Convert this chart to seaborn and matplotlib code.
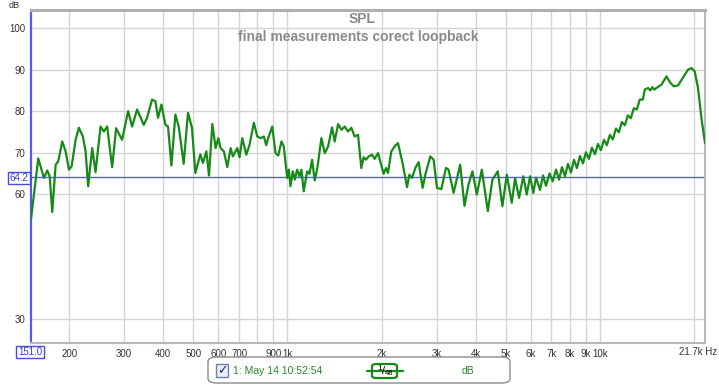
import matplotlib
matplotlib.use('Agg')
import matplotlib.pyplot as plt
import matplotlib.ticker as mticker
from matplotlib.patches import FancyBboxPatch, Rectangle
from matplotlib.lines import Line2D
import seaborn as sns

# SPL trace (Hz, dB)
freq_hz = [151, 159.3, 166.1, 170.2, 173.3, 176.6, 181.1, 184.6, 190.1, 194.9,
           199.7, 203.7, 209.8, 214.9, 221.3, 225.8, 230.1, 237.1, 243.0, 252.1,
           258.3, 264.7, 274.6, 282.8, 295.5, 308.9, 318.1, 330.0, 346.7, 355.2,
           368.5, 377.8, 385.1, 394.9, 406.7, 414.6, 425.0, 437.7, 448.6, 465.3,
           480.3, 494.6, 507.1, 526.1, 536.3, 550.0, 560.7, 574.8, 588.8, 600.6,
           610.8, 625.8, 641.6, 657.5, 668.6, 690.6, 702.4, 716.6, 738.1, 756.1,
           780.4, 800.2, 819.8, 840.1, 855.0, 867.6, 893.6, 915.7, 934.0, 956.8,
           973.2, 998, 1010, 1022, 1040, 1055, 1074, 1092, 1108, 1127,
           1156, 1176, 1199, 1222, 1244, 1284, 1316, 1349, 1389, 1416,
           1452, 1488, 1524, 1563, 1601, 1641, 1682, 1723, 1753, 1784,
           1819, 1865, 1901, 1949, 1982, 2031, 2067, 2098, 2149, 2213,
           2258, 2296, 2335, 2414, 2455, 2504, 2566, 2629, 2707, 2762,
           2865, 2936, 3010, 3107, 3216, 3278, 3401, 3571, 3686, 3796,
           3909, 4037, 4188, 4379, 4529, 4712, 4874, 5034, 5223, 5352,
           5511, 5688, 5832, 5976, 6123, 6246, 6431, 6576, 6723, 6899,
           7063, 7237, 7398, 7563, 7732, 7905, 8081, 8261, 8445, 8634,
           8826, 9023, 9224, 9430, 9640, 9855, 10075, 10300, 10529, 10764,
           11004, 11250, 11501, 11757, 12019, 12287, 12561, 12841, 13128, 13420,
           13720, 13925, 14268, 14501, 14716, 14934, 15178, 15747, 16336, 16824,
           17237, 17791, 18552, 19147, 19634, 20116, 20610, 21132, 21700]
spl_db = [54.0, 68.6, 63.9, 65.7, 64.3, 55.7, 67.1, 67.9, 72.7, 70.3,
          65.9, 66.7, 73.1, 76.0, 73.9, 70.3, 61.9, 71.1, 65.3, 76.3,
          75.1, 76.3, 66.5, 75.9, 73.1, 80.0, 76.3, 80.4, 76.7, 78.4,
          82.8, 82.4, 78.4, 81.6, 76.7, 76.3, 66.9, 79.2, 76.3, 67.3,
          79.6, 76.0, 65.1, 69.6, 67.5, 70.3, 64.5, 76.9, 71.1, 73.5,
          71.1, 70.3, 66.5, 71.1, 69.1, 71.1, 68.9, 73.5, 69.5, 71.9,
          77.2, 73.9, 73.5, 73.9, 71.8, 73.5, 76.3, 69.9, 69.3, 72.7,
          71.5, 63.9, 65.9, 61.9, 65.5, 63.5, 65.9, 64.3, 65.9, 60.7,
          65.5, 64.9, 68.3, 63.3, 65.9, 73.5, 69.9, 71.5, 76.1, 72.7,
          76.9, 75.5, 76.3, 75.1, 76.0, 73.9, 74.3, 66.3, 68.9, 68.3,
          69.1, 69.5, 68.5, 69.9, 67.9, 64.9, 66.3, 65.1, 70.3, 71.7,
          72.3, 69.9, 67.5, 61.7, 64.7, 63.9, 66.3, 67.7, 61.5, 64.7,
          69.1, 68.3, 61.5, 61.2, 66.3, 65.9, 60.3, 67.1, 57.2, 62.3,
          65.5, 59.9, 65.9, 55.9, 63.5, 65.5, 57.1, 64.7, 57.9, 63.9,
          59.1, 64.3, 59.9, 64.3, 60.3, 64.0, 61.0, 64.5, 62.0, 65.0,
          63.1, 65.9, 63.5, 66.5, 64.3, 67.3, 65.2, 68.3, 66.3, 69.2,
          67.4, 70.1, 68.5, 71.2, 69.6, 72.1, 70.6, 73.1, 71.8, 74.3,
          73.2, 75.8, 74.9, 77.4, 76.6, 79.0, 78.3, 80.7, 80.4, 82.8,
          82.8, 85.2, 85.6, 85.0, 85.8, 85.2, 85.6, 86.4, 88.4, 86.8,
          86.0, 86.2, 88.4, 90.0, 90.4, 89.6, 85.6, 78.4, 72.3]

ref_level = 64.2
x_start = 151.0
x_end = 21700

x_tick_vals = [200, 300, 400, 500, 600, 700, 900, 1000, 2000, 3000, 4000,
               5000, 6000, 7000, 8000, 9000, 10000]
x_tick_text = ['200', '300', '400', '500', '600', '700', '900', '1k', '2k', '3k',
               '4k', '5k', '6k', '7k', '8k', '9k', '10k']
x_grid_vals = [200, 300, 400, 500, 600, 700, 800, 900, 1000, 2000, 3000, 4000,
               5000, 6000, 7000, 8000, 9000, 10000, 20000]
y_tick_vals = [30, 60, 70, 80, 90, 100]
y_tick_text = ['30', '60', '70', '80', '90', '100']

W, H = 719, 385


def fx(px):
    return px / W


def fy(py):
    return 1 - py / H


sns.set_style('white')
plt.rcParams['font.family'] = ['Liberation Sans', 'DejaVu Sans']

fig = plt.figure(figsize=(W / 100, H / 100), dpi=100)
ax = fig.add_axes([fx(31), fy(343), (705 - 31) / W, (343 - 10) / H])

for v in x_grid_vals:
    ax.axvline(v, color='#d4d4d4', lw=1, zorder=0)
for v in y_tick_vals:
    ax.axhline(v, color='#d4d4d4', lw=1, zorder=0)
ax.axhline(ref_level, color='#5a5ae8', lw=1, zorder=1)

sns.lineplot(x=freq_hz, y=spl_db, ax=ax, color='#168a16', lw=1.6,
             estimator=None, sort=False, zorder=3)

ax.set_xscale('log')
ax.set_xlim(x_start, x_end)
ax.set_ylim(24.1, 104.4)
ax.xaxis.set_major_locator(mticker.FixedLocator(x_tick_vals))
ax.xaxis.set_major_formatter(mticker.FixedFormatter(x_tick_text))
ax.xaxis.set_minor_locator(mticker.NullLocator())
ax.set_yticks(y_tick_vals, labels=y_tick_text)
ax.tick_params(axis='both', length=0, labelsize=7, colors='#333333')
ax.tick_params(axis='x', pad=4)
ax.tick_params(axis='y', pad=4)
ax.set_xlabel('')
ax.set_ylabel('')

for side in ['right', 'bottom']:
    ax.spines[side].set_color('#b8b8b8')
    ax.spines[side].set_linewidth(1.5)
ax.spines['top'].set_color('#b0b0b0')
ax.spines['top'].set_linewidth(2.2)
ax.spines['left'].set_color('#5a5ae8')
ax.spines['left'].set_linewidth(1.6)

# titles and unit labels
fig.text(fx(362), fy(19), 'SPL', ha='center', va='center', fontsize=10,
         fontweight='bold', color='#8a8a8a')
fig.text(fx(358), fy(37), 'final measurements corect loopback', ha='center',
         va='center', fontsize=10, fontweight='bold', color='#8a8a8a')
fig.text(fx(14), fy(5), 'dB', ha='center', va='center', fontsize=6.5, color='#333333')
fig.text(fx(717), fy(352), '21.7k Hz', ha='right', va='center', fontsize=7,
         color='#333333')

box_style = dict(boxstyle='square,pad=0.15', fc='white', ec='#4a4ae0', lw=1)
fig.text(fx(19), fy(178), f'{ref_level:.1f}', ha='center', va='center',
         fontsize=7, color='#3a3ac8', bbox=box_style)
fig.text(fx(30), fy(352), f'{x_start:.1f}', ha='center', va='center',
         fontsize=7, color='#3a3ac8', bbox=box_style)

# legend panel
fig.patches.append(FancyBboxPatch((fx(208), fy(383)), fx(510) - fx(208), fy(357) - fy(383),
                                  boxstyle='round,pad=0,rounding_size=0.012',
                                  transform=fig.transFigure, fc='white',
                                  ec='#8c8c8c', lw=1))
fig.patches.append(Rectangle((fx(216), fy(377)), fx(12), fy(364) - fy(377),
                             transform=fig.transFigure, fc='#e9edf5', ec='#7080a8', lw=1))
fig.text(fx(222), fy(370.5), '\u2713', ha='center', va='center', fontsize=9,
         color='#203070', family=['DejaVu Sans'], fontweight='bold')
fig.text(fx(233), fy(371), '1: May 14 10:52:54', ha='left', va='center',
         fontsize=7.5, color='#2a8a2a')
fig.lines.append(Line2D([fx(367), fx(403)], [fy(371), fy(371)],
                        transform=fig.transFigure, color='#168a16', lw=1.6))
fig.patches.append(FancyBboxPatch((fx(372), fy(378)), fx(25), fy(364) - fy(378),
                                  boxstyle='round,pad=0,rounding_size=0.006',
                                  transform=fig.transFigure, fc='white',
                                  ec='#168a16', lw=1.6))
fig.text(fx(380), fy(368), '1', ha='center', va='center', fontsize=6, color='black')
fig.text(fx(384), fy(371), '/', ha='center', va='center', fontsize=8, color='black')
fig.text(fx(389.5), fy(373.5), '48', ha='center', va='center', fontsize=5.5,
         color='black')
fig.text(fx(462), fy(371), 'dB', ha='left', va='center', fontsize=7.5,
         color='#2a8a2a')

fig.savefig('out.png', dpi=100)
